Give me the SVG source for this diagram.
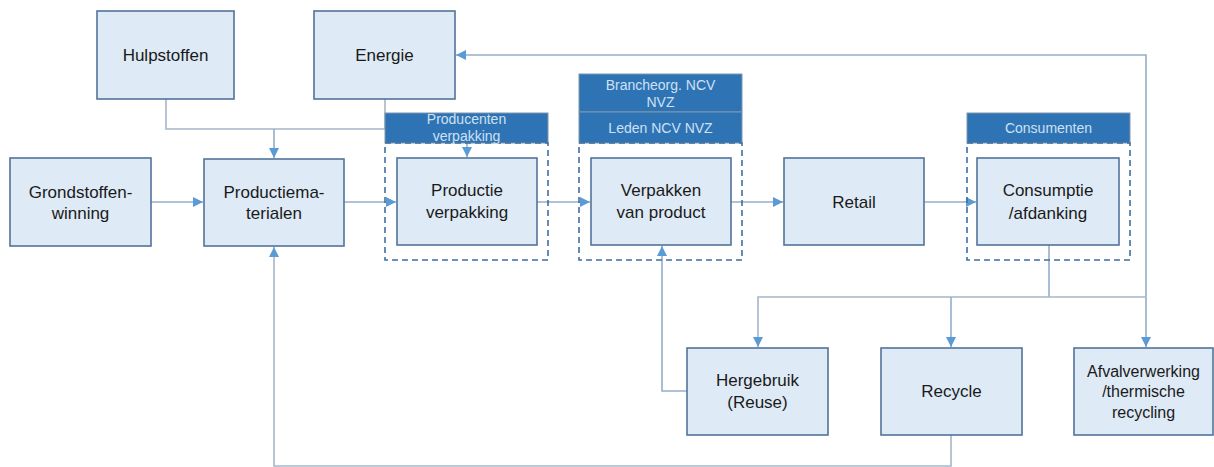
<svg xmlns="http://www.w3.org/2000/svg" width="1214" height="467" viewBox="0 0 1214 467">
<defs>
<style>
.box{fill:#DEEAF6;stroke:#52749A;stroke-width:1.6}
.hdr{fill:#2E74B5;stroke:#7F96AE;stroke-width:1}
.dash{fill:none;stroke:#3F6F9F;stroke-width:1.6;stroke-dasharray:6,4}
.t{font-family:"Liberation Sans",Arial,sans-serif;font-size:17px;fill:#1a1a1a;text-anchor:middle}
.t16{font-size:16px}
.ht{font-family:"Liberation Sans",Arial,sans-serif;font-size:14px;fill:#CFE0F3;text-anchor:middle}
.ln{fill:none;stroke:#94AECB;stroke-width:1.6}
.lg{fill:none;stroke:#A7B6C7;stroke-width:1.6}
</style>
<marker id="ah" markerUnits="userSpaceOnUse" markerWidth="12" markerHeight="12" viewBox="0 0 12 12" refX="11" refY="6" orient="auto">
<path d="M1,1 L11,6 L1,11 Z" fill="#5B9BD5"/>
</marker>
</defs>
<rect width="1214" height="467" fill="#FFFFFF"/>

<g id="connectors">
<polyline class="lg" points="166,99 166,129 385,129"/>
<line class="lg" x1="385" y1="99" x2="385" y2="129"/>
<line class="ln" x1="274" y1="129" x2="274" y2="158" marker-end="url(#ah)"/>
<line class="ln" x1="467" y1="143" x2="467" y2="157" marker-end="url(#ah)"/>
<line class="ln" x1="151" y1="202" x2="203" y2="202" marker-end="url(#ah)"/>
<line class="ln" x1="344" y1="202" x2="396" y2="202" marker-end="url(#ah)"/>
<line class="ln" x1="537" y1="202" x2="590" y2="202" marker-end="url(#ah)"/>
<line class="ln" x1="731" y1="202" x2="783" y2="202" marker-end="url(#ah)"/>
<line class="ln" x1="924" y1="202" x2="976" y2="202" marker-end="url(#ah)"/>
<polyline class="ln" points="1146,297 1146,55 456,55" marker-end="url(#ah)"/>
<line class="ln" x1="1146" y1="297" x2="1146" y2="347" marker-end="url(#ah)"/>
<line class="ln" x1="1049" y1="245" x2="1049" y2="297"/>
<polyline class="lg" points="1146,297 758,297 758,347" marker-end="url(#ah)"/>
<line class="ln" x1="951" y1="297" x2="951" y2="347" marker-end="url(#ah)"/>
<polyline class="ln" points="687,391 662,391 662,246" marker-end="url(#ah)"/>
<polyline class="lg" points="951,435 951,466 274,466 274,247" marker-end="url(#ah)"/>
</g>

<g id="hulpstoffen">
<rect class="box" x="97" y="11" width="137" height="88"/>
<text class="t" x="165.5" y="61">Hulpstoffen</text>
</g>
<g id="energie">
<rect class="box" x="314" y="11" width="141" height="88"/>
<text class="t" x="384.5" y="61">Energie</text>
</g>
<g id="grondstoffen">
<rect class="box" x="10" y="158" width="141" height="88"/>
<text class="t" x="80.5" y="198">Grondstoffen-</text>
<text class="t" x="80.5" y="219">winning</text>
</g>
<g id="productiematerialen">
<rect class="box" x="204" y="159" width="140" height="87"/>
<text class="t" x="274" y="198">Productiema-</text>
<text class="t" x="274" y="219">terialen</text>
</g>
<g id="producenten">
<rect class="hdr" x="385" y="113" width="163" height="30"/>
<rect class="dash" x="385" y="143" width="163" height="117"/>
<text class="ht" x="466.5" y="124">Producenten</text>
<text class="ht" x="466.5" y="141">verpakking</text>
</g>
<g id="productie-verpakking">
<rect class="box" x="397" y="158" width="140" height="87"/>
<text class="t" x="467" y="196">Productie</text>
<text class="t" x="467" y="218">verpakking</text>
</g>
<g id="brancheorg">
<rect class="hdr" x="579" y="74" width="163" height="38"/>
<text class="ht" x="660.5" y="90">Brancheorg. NCV</text>
<text class="ht" x="660.5" y="107">NVZ</text>
</g>
<g id="leden">
<rect class="hdr" x="579" y="112" width="163" height="31"/>
<rect class="dash" x="579" y="143" width="163" height="117"/>
<text class="ht" x="660.5" y="133">Leden NCV NVZ</text>
</g>
<g id="verpakken">
<rect class="box" x="591" y="158" width="140" height="87"/>
<text class="t" x="661" y="196">Verpakken</text>
<text class="t" x="661" y="218">van product</text>
</g>
<g id="retail">
<rect class="box" x="784" y="158" width="140" height="87"/>
<text class="t" x="854" y="208">Retail</text>
</g>
<g id="consumenten">
<rect class="hdr" x="967" y="113" width="163" height="30"/>
<rect class="dash" x="967" y="143" width="163" height="117"/>
<text class="ht" x="1048.5" y="133">Consumenten</text>
</g>
<g id="consumptie">
<rect class="box" x="977" y="158" width="142" height="87"/>
<text class="t" x="1048" y="196">Consumptie</text>
<text class="t" x="1048" y="219">/afdanking</text>
</g>
<g id="hergebruik">
<rect class="box" x="687" y="348" width="141" height="87"/>
<text class="t" x="757.5" y="386">Hergebruik</text>
<text class="t" x="757.5" y="408">(Reuse)</text>
</g>
<g id="recycle">
<rect class="box" x="881" y="348" width="141" height="87"/>
<text class="t" x="951.5" y="397">Recycle</text>
</g>
<g id="afvalverwerking">
<rect class="box" x="1074" y="348" width="139" height="87"/>
<text class="t t16" x="1143.5" y="377">Afvalverwerking</text>
<text class="t t16" x="1143.5" y="397">/thermische</text>
<text class="t t16" x="1143.5" y="418">recycling</text>
</g>
</svg>
